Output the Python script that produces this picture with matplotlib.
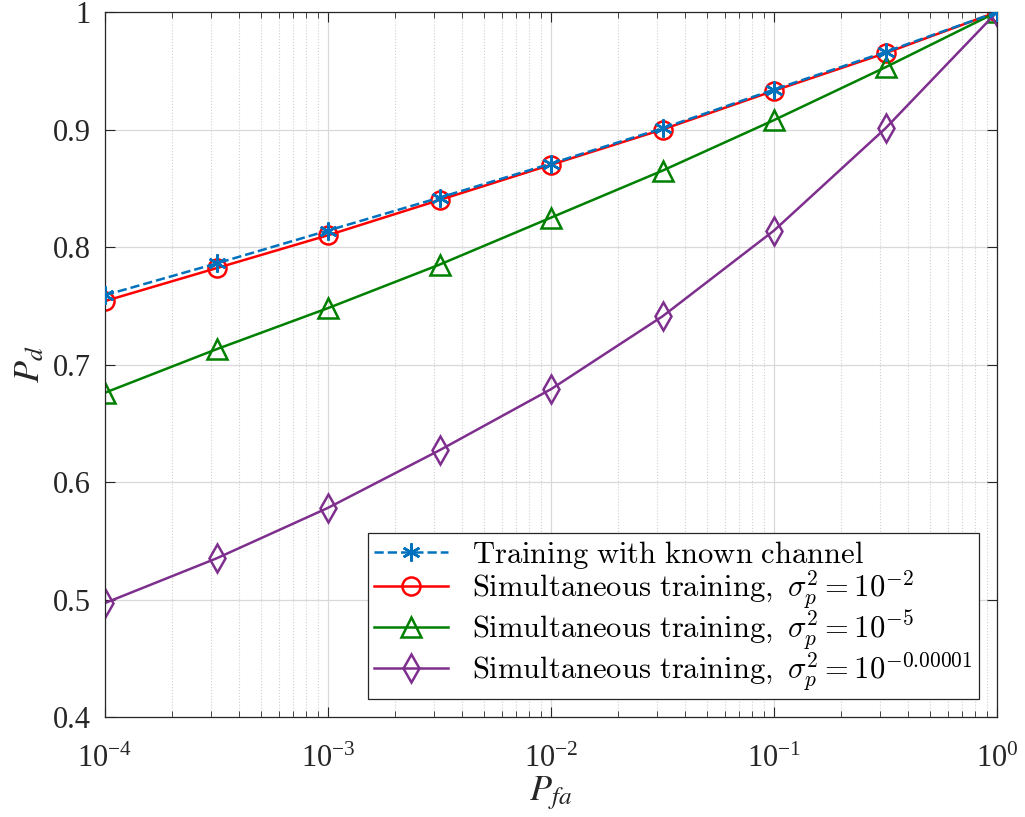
import numpy as np
import matplotlib
matplotlib.use("Agg")
import matplotlib.pyplot as plt
from matplotlib.font_manager import FontProperties
from matplotlib.ticker import LogLocator, LogFormatterMathtext, NullFormatter

plt.rcParams['font.family'] = ['Liberation Serif', 'DejaVu Serif']
plt.rcParams['mathtext.fontset'] = 'stix'

# false alarm probability grid
pfa = [1e-4, 10**-3.5, 1e-3, 10**-2.5, 1e-2, 10**-1.5, 1e-1, 10**-0.5, 1.0]

# detection probability curves
pd_known = [0.759, 0.786, 0.814, 0.842, 0.871, 0.901, 0.934, 0.966, 1.0]
pd_sim_m2 = [0.754, 0.782, 0.810, 0.840, 0.870, 0.900, 0.933, 0.965, 1.0]
pd_sim_m5 = [0.676, 0.713, 0.748, 0.785, 0.825, 0.865, 0.908, 0.953, 1.0]
pd_sim_m0 = [0.497, 0.535, 0.578, 0.627, 0.679, 0.741, 0.814, 0.901, 1.0]

labels = [
    r'$\mathrm{Training\ with\ known\ channel}$',
    r'$\mathrm{Simultaneous\ training,}\ \sigma_p^2 = 10^{-2}$',
    r'$\mathrm{Simultaneous\ training,}\ \sigma_p^2 = 10^{-5}$',
    r'$\mathrm{Simultaneous\ training,}\ \sigma_p^2 = 10^{-0.00001}$',
]

fig = plt.figure(figsize=(10.25, 8.17), dpi=100)
ax = fig.add_axes([105 / 1025, 1 - 717 / 817, (997 - 105) / 1025, (717 - 12) / 817])

lw = 1.8
ms = 13
asterisk = (6, 2, 0)
ax.plot(pfa, pd_known, '--', marker=asterisk, color='#0072BD', lw=lw, ms=ms, mew=lw,
        label=labels[0], zorder=3)
ax.plot(pfa, pd_sim_m2, '-o', color='#FF0000', lw=lw, ms=ms, mew=lw, mfc='none',
        label=labels[1], zorder=2)
ax.plot(pfa, pd_sim_m5, '-^', color='#008000', lw=lw, ms=ms + 1, mew=lw, mfc='none',
        label=labels[2], zorder=2)
ax.plot(pfa, pd_sim_m0, '-d', color='#7E2F8E', lw=lw, ms=ms + 1, mew=lw, mfc='none',
        label=labels[3], zorder=2)

ax.set_xscale('log')
ax.set_xlim(1e-4, 1)
ax.set_ylim(0.4, 1)
ax.xaxis.set_major_locator(LogLocator(base=10, numticks=10))
ax.xaxis.set_major_formatter(LogFormatterMathtext())
ax.xaxis.set_minor_locator(LogLocator(base=10, subs=np.arange(2, 10), numticks=20))
ax.xaxis.set_minor_formatter(NullFormatter())
ax.set_yticks(np.arange(0.4, 1.01, 0.1))
ax.set_yticklabels(['0.4', '0.5', '0.6', '0.7', '0.8', '0.9', '1'])

ax.grid(True, which='major', color='#d9d9d9', lw=0.9, ls='-')
ax.grid(True, which='minor', axis='x', color='#d0d0d0', lw=0.8, ls=':')
ax.set_axisbelow(True)

ax.tick_params(which='both', direction='in', top=True, right=True,
               labelsize=22, colors='#262626', labelcolor='#262626')
ax.tick_params(which='major', length=7, width=0.8)
ax.tick_params(axis='x', which='major', pad=20)
ax.tick_params(axis='y', which='major', pad=10)
ax.tick_params(which='minor', length=4, width=0.6)
for s in ax.spines.values():
    s.set_color('#262626')
    s.set_linewidth(0.9)

ax.set_xlabel(r'$P_{fa}$', fontsize=26, color='#262626', labelpad=0)
ax.set_ylabel(r'$P_d$', fontsize=26, color='#262626', labelpad=4)

leg_font = FontProperties(size=22, math_fontfamily='cm')
leg = ax.legend(loc='lower right', prop=leg_font, fancybox=False, framealpha=1,
                edgecolor='#262626', handlelength=2.4, borderpad=0.2,
                labelspacing=-0.08, handletextpad=0.8, borderaxespad=0.6)
leg.get_frame().set_linewidth(0.9)

fig.savefig('out.png', dpi=100)
